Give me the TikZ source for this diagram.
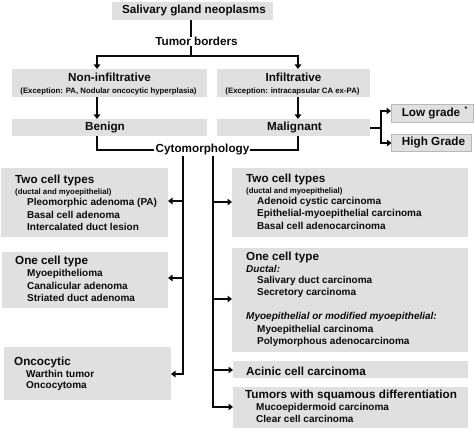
\documentclass[tikz,border=0pt]{standalone}
\usepackage{fontspec}
\setmainfont{Liberation Sans}
\usetikzlibrary{arrows.meta}
\definecolor{boxgray}{RGB}{224,224,224}
\definecolor{ink}{RGB}{10,10,10}
\begin{document}
\begin{tikzpicture}[x=1pt,y=-1pt,
  box/.style={fill=boxgray,draw=none,inner sep=0pt,outer sep=0pt},
  gradebox/.style={box,draw=black!28,line width=0.6pt},
  hd/.style={inner sep=0pt,text=ink,font=\fontsize{11.7}{13}\selectfont\bfseries},
  itm/.style={inner sep=0pt,text=ink,font=\fontsize{10}{12}\selectfont\bfseries},
  sm/.style={inner sep=0pt,text=ink,font=\fontsize{7.8}{9}\selectfont\bfseries},
  itl/.style={inner sep=0pt,text=ink,font=\fontsize{10}{12}\selectfont\bfseries\itshape},
  conn/.style={line width=2.6pt,draw=ink},
  arr/.style={conn,-{Triangle[length=4.5pt,width=6.5pt]}}
]
\useasboundingbox (0,0) rectangle (474,430);

% ---------- top part ----------
\node[box,minimum width=161pt,minimum height=18pt] (top) at (192,11) {};
\node[hd] (toptxt) at (194,11) {Salivary gland neoplasms};
\node[hd] (tb) at (196.5,41) {Tumor borders};

\node[box,minimum width=195pt,minimum height=28pt] (nonin) at (109.5,83) {};
\node[hd] (nonintxt) at (109.5,77) {Non-infiltrative};
\node[sm] (noninsub) at (108.5,91) {(Exception: PA, Nodular oncocytic hyperplasia)};

\node[box,minimum width=153pt,minimum height=28pt] (infil) at (293.5,83) {};
\node[hd] (infiltxt) at (293.5,77) {Infiltrative};
\node[sm] (infilsub) at (292.5,91) {(Exception: intracapsular CA ex-PA)};

\node[box,minimum width=195pt,minimum height=17pt] (benign) at (109.5,127.5) {};
\node[hd] (benigntxt) at (105,128) {Benign};
\node[box,minimum width=153pt,minimum height=17pt] (malig) at (293.5,127.5) {};
\node[hd] (maligtxt) at (294.5,128) {Malignant};

\node[gradebox,minimum width=82pt,minimum height=18pt] (low) at (432,113) {};
\node[hd] (lowtxt) at (431,113.5) {Low grade};
\node[sm,font=\fontsize{7}{8}\selectfont\bfseries] (ast) at (466,109) {*};
\node[gradebox,minimum width=80pt,minimum height=17pt] (high) at (431.5,142.5) {};
\node[hd] (hightxt) at (433.5,142.5) {High Grade};

\node[hd] (cyto) at (202.5,150) {Cytomorphology};

% ---------- connectors top ----------
\coordinate (j1) at (191,56);
\coordinate (aL) at (97,56);
\coordinate (aR) at (298,56);
\draw[conn] (top.south -| j1) -- (tb.north -| j1);
\draw[conn] ([yshift=-1pt]tb.south -| j1) -- (j1);
\draw[conn] ([xshift=-1.3pt]aL) -- ([xshift=1.3pt]aR);
\draw[arr] ([yshift=-1.3pt]aL) -- (aL |- nonin.north);
\draw[arr] ([yshift=-1.3pt]aR) -- (aR |- infil.north);
\draw[arr] (aL |- nonin.south) -- (aL |- benign.north);
\draw[arr] (aR |- infil.south) -- (aR |- malig.north);

% grade bracket
\coordinate (gb) at (381,128);
\coordinate (gt) at (381,111);
\coordinate (gd) at (381,143);
\draw[conn] (malig.east |- gb) -- (gb);
\draw[conn] ([yshift=1.3pt]gt) -- ([yshift=-1.3pt]gd);
\draw[arr] ([xshift=-1.3pt]gt) -- (gt -| low.west);
\draw[arr] ([xshift=-1.3pt]gd) -- (gd -| high.west);

% to cytomorphology
\draw[conn] (aL |- benign.south) |- ([xshift=-2pt]cyto.west);
\draw[conn] (aR |- malig.south) |- ([xshift=1pt]cyto.east);

% ---------- left column ----------
\node[box,minimum width=167pt,minimum height=69pt] (L1) at (84.5,202.5) {};
\node[hd,anchor=west] (L1h) at (15,180) {Two cell types};
\node[sm,anchor=west] (L1s) at (15,192) {(ductal and myoepithelial)};
\node[itm,anchor=west] (L1a) at (27,203) {Pleomorphic adenoma (PA)};
\node[itm,anchor=west] (L1b) at (27,214.5) {Basal cell adenoma};
\node[itm,anchor=west] (L1c) at (27,226.5) {Intercalated duct lesion};

\node[box,minimum width=166pt,minimum height=56pt] (L2) at (85,280) {};
\node[hd,anchor=west] (L2h) at (15,261) {One cell type};
\node[itm,anchor=west] (L2a) at (27,274) {Myoepithelioma};
\node[itm,anchor=west] (L2b) at (27,286) {Canalicular adenoma};
\node[itm,anchor=west] (L2c) at (27,298) {Striated duct adenoma};

\node[box,minimum width=167pt,minimum height=53pt] (L3) at (87.5,373.5) {};
\node[hd,anchor=west] (L3h) at (14,362) {Oncocytic};
\node[itm,anchor=west] (L3a) at (26,374) {Warthin tumor};
\node[itm,anchor=west] (L3b) at (26,386) {Oncocytoma};

% ---------- right column ----------
\node[box,minimum width=236pt,minimum height=69pt] (R1) at (350,202.5) {};
\node[hd,anchor=west] (R1h) at (246,179) {Two cell types};
\node[sm,anchor=west] (R1s) at (246,191) {(ductal and myoepithelial)};
\node[itm,anchor=west] (R1a) at (257,202) {Adenoid cystic carcinoma};
\node[itm,anchor=west] (R1b) at (257,214) {Epithelial-myoepithelial carcinoma};
\node[itm,anchor=west] (R1c) at (257,226) {Basal cell adenocarcinoma};

\node[box,minimum width=236pt,minimum height=104pt] (R2) at (350,300) {};
\node[hd,anchor=west] (R2h) at (246,257) {One cell type};
\node[itl,anchor=west] (R2d) at (246,269) {Ductal:};
\node[itm,anchor=west] (R2a) at (257,281) {Salivary duct carcinoma};
\node[itm,anchor=west] (R2b) at (257,293) {Secretory carcinoma};
\node[itl,anchor=west] (R2m) at (246,317) {Myoepithelial or modified myoepithelial:};
\node[itm,anchor=west] (R2c) at (257,330) {Myoepithelial carcinoma};
\node[itm,anchor=west] (R2e) at (257,342) {Polymorphous adenocarcinoma};

\node[box,minimum width=235pt,minimum height=17pt] (R3) at (350.5,369.5) {};
\node[hd,anchor=west] (R3h) at (246,371) {Acinic cell carcinoma};

\node[box,minimum width=235pt,minimum height=41pt] (R4) at (350.5,407.5) {};
\node[hd,anchor=west] (R4h) at (245,395) {Tumors with squamous differentiation};
\node[itm,anchor=west] (R4a) at (256,408) {Mucoepidermoid carcinoma};
\node[itm,anchor=west] (R4b) at (256,419) {Clear cell carcinoma};

% ---------- cytomorphology trunks ----------
\coordinate (vl) at (183,374);
\coordinate (vr) at (213,407);
\draw[conn] (cyto.south -| vl) -- ([yshift=1.3pt]vl);
\draw[conn] (cyto.south -| vr) -- ([yshift=1.3pt]vr);
\draw[arr] (vl |- 0,201) -- (L1.east |- 0,201);
\draw[arr] (vl |- 0,278) -- (L2.east |- 0,278);
\draw[arr] ([xshift=1.3pt]vl) -- (L3.east |- vl);
\draw[arr] (vr |- 0,202) -- (R1.west |- 0,202);
\draw[arr] (vr |- 0,299) -- (R2.west |- 0,299);
\draw[arr] (vr |- 0,370) -- (R3.west |- 0,370);
\draw[arr] ([xshift=-1.3pt]vr) -- (R4.west |- vr);
\end{tikzpicture}
\end{document}
